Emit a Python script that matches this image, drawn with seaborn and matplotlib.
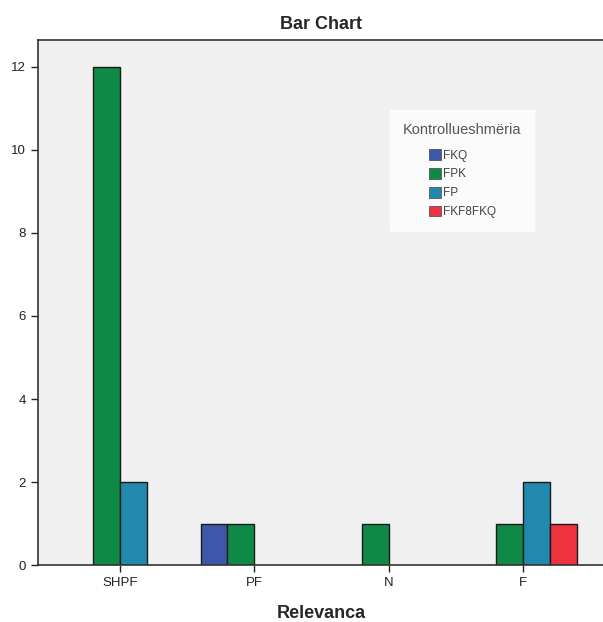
import pandas as pd
import seaborn as sns
import matplotlib.pyplot as plt

# data
categories = ["SHPF", "PF", "N", "F"]
series = ["FKQ", "FPK", "FP", "FKF8FKQ"]
fkq = [0, 1, 0, 0]
fpk = [12, 1, 1, 1]
fp = [2, 0, 0, 2]
fkf_fkq = [0, 0, 0, 1]
colors = ["#3E57AB", "#0F8A46", "#2289AE", "#EE323E"]

rows = []
for name, vals in zip(series, [fkq, fpk, fp, fkf_fkq]):
    for cat, v in zip(categories, vals):
        if v > 0:
            rows.append({"Relevanca": cat, "Kontrollueshmëria": name, "Count": v})
data = pd.DataFrame(rows)

sns.set_style("white")
plt.rcParams['font.family'] = ['Liberation Sans', 'DejaVu Sans']

fig = plt.figure(figsize=(6.03, 6.22), dpi=100)
ax = fig.add_axes([0.063, 0.0916, 0.94, 0.8441])
ax.set_facecolor("#F0F0F0")

sns.barplot(data=data, x="Relevanca", y="Count", hue="Kontrollueshmëria",
            order=categories, hue_order=series, palette=colors,
            width=0.8, edgecolor="#1a1a1a", linewidth=1, saturation=1,
            ax=ax)

ax.set_xlim(-0.61, 3.61)
ax.set_ylim(0, 12.65)
ax.set_yticks([0, 2, 4, 6, 8, 10, 12])
ax.tick_params(axis="both", direction="out", length=5, width=1, colors="#222222",
               labelsize=9.5, bottom=True, left=True)
for s in ["left", "bottom", "top"]:
    ax.spines[s].set_visible(True)
    ax.spines[s].set_color("#333333")
    ax.spines[s].set_linewidth(1.2)
ax.spines["right"].set_visible(False)

ax.set_ylabel("")
ax.set_xlabel("Relevanca", fontsize=13, fontweight="bold", labelpad=12)
ax.set_title("Bar Chart", fontsize=13, fontweight="bold", pad=8)

leg = ax.legend(title="Kontrollueshmëria", loc="upper left",
                bbox_to_anchor=(0.621, 0.867), fontsize=8.5, title_fontsize=10.5,
                frameon=True, fancybox=False, handlelength=1.0, handleheight=1.0,
                handletextpad=0.15, labelspacing=0.55, borderpad=1.1,
                borderaxespad=0)
leg.get_frame().set_facecolor("white")
leg.get_frame().set_edgecolor("white")
leg._legend_box.align = "center"
leg._legend_box.sep = 9
for h in leg.legend_handles:
    h.set_edgecolor("#555555")
    h.set_linewidth(0.6)
for t in leg.get_texts():
    t.set_color("#444444")
leg.get_title().set_color("#555555")

plt.savefig("out.png", dpi=100)
